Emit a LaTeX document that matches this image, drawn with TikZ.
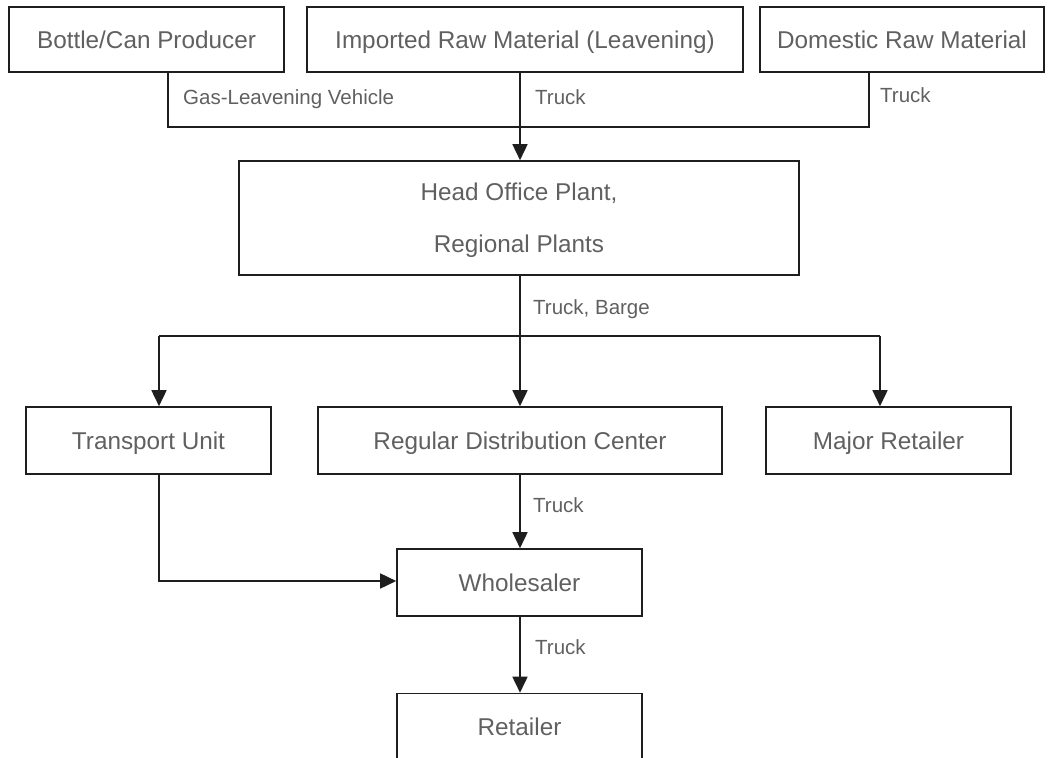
\documentclass[tikz,border=0pt]{standalone}
\usepackage{fontspec}
\setmainfont{Liberation Sans}
\usetikzlibrary{arrows.meta}
\definecolor{ink}{HTML}{1E1E1E}
\definecolor{txt}{HTML}{606060}
\begin{document}
\begin{tikzpicture}[x=1pt,y=-1pt,
  box/.style={draw=ink, line width=1.6pt, rectangle, inner sep=0pt, text=txt,
    font=\fontsize{24.3}{29}\selectfont, minimum height=67pt,
    text height=17.5pt, text depth=0pt},
  flow/.style={draw=ink, line width=1.6pt},
  tip/.style={-{Triangle[length=16pt,width=15pt]}},
  lbl/.style={text=txt, font=\fontsize{20.5}{24}\selectfont, inner sep=0pt, anchor=west,
    text height=15pt, text depth=0pt}]
\useasboundingbox (0,0) rectangle (1048,757);
\clip (0,0) rectangle (1048,757);

% sources
\node[box, minimum width=275pt, minimum height=65pt] (bottle) at (146.5,39.5) {Bottle/Can Producer};
\node[box, minimum width=436pt, minimum height=65pt] (imported) at (525,39.5) {Imported Raw Material (Leavening)};
\node[box, minimum width=284pt, minimum height=65pt] (domestic) at (902,39.5) {Domestic Raw Material};

% plants: two lines set 52pt apart (the box's baseline is its last line)
\node[box, minimum width=560pt, minimum height=114pt, align=center,
  font=\fontsize{24.3}{52}\selectfont, text height=69.5pt] (head) at (519,218) {Head Office Plant,\\Regional Plants};

% distribution
\node[box, minimum width=245pt] (transport) at (148.5,440.5) {Transport Unit};
\node[box, minimum width=404pt] (regular) at (520,440.5) {Regular Distribution Center};
\node[box, minimum width=245pt] (major) at (888.5,440.5) {Major Retailer};
\node[box, minimum width=245pt] (wholesaler) at (519.5,582.5) {Wholesaler};
\node[box, minimum width=245pt] (retailer) at (519.5,727) {Retailer};

% routing columns and junctions
\coordinate (trunk) at (520,0);
\coordinate (jbottle) at (168,127);
\coordinate (jdomestic) at (869,127);
\coordinate (split) at (520,336);
\coordinate (sleft) at (159,336);
\coordinate (sright) at (880,336);
\coordinate (tcorner) at (159,581);

% inbound materials
\draw[flow] (jbottle |- bottle.south) -- (jbottle) -- (jdomestic) -- (jdomestic |- domestic.south);
\draw[flow, tip] (trunk |- imported.south) -- (trunk |- head.north);
\node[lbl] (lgas) at (183,97) {Gas-Leavening Vehicle};
\node[lbl] (ltruck1) at (535,97) {Truck};
\node[lbl] (ltruck2) at (880,95) {Truck};

% outbound from plants
\draw[flow] (trunk |- head.south) -- (split);
\draw[flow] (sleft) -- (sright);
\draw[flow, tip] (sleft) -- (sleft |- transport.north);
\draw[flow, tip] (split) -- (trunk |- regular.north);
\draw[flow, tip] (sright) -- (sright |- major.north);
\node[lbl] (lbarge) at (533,307) {Truck, Barge};

% to wholesaler and retailer
\draw[flow, tip] (trunk |- regular.south) -- (trunk |- wholesaler.north);
\node[lbl] (ltruck3) at (533,505) {Truck};
\draw[flow, tip] (tcorner |- transport.south) -- (tcorner) -- (tcorner -| wholesaler.west);
\draw[flow, tip] (trunk |- wholesaler.south) -- (trunk |- retailer.north);
\node[lbl] (ltruck4) at (535,647) {Truck};
\end{tikzpicture}
\end{document}
